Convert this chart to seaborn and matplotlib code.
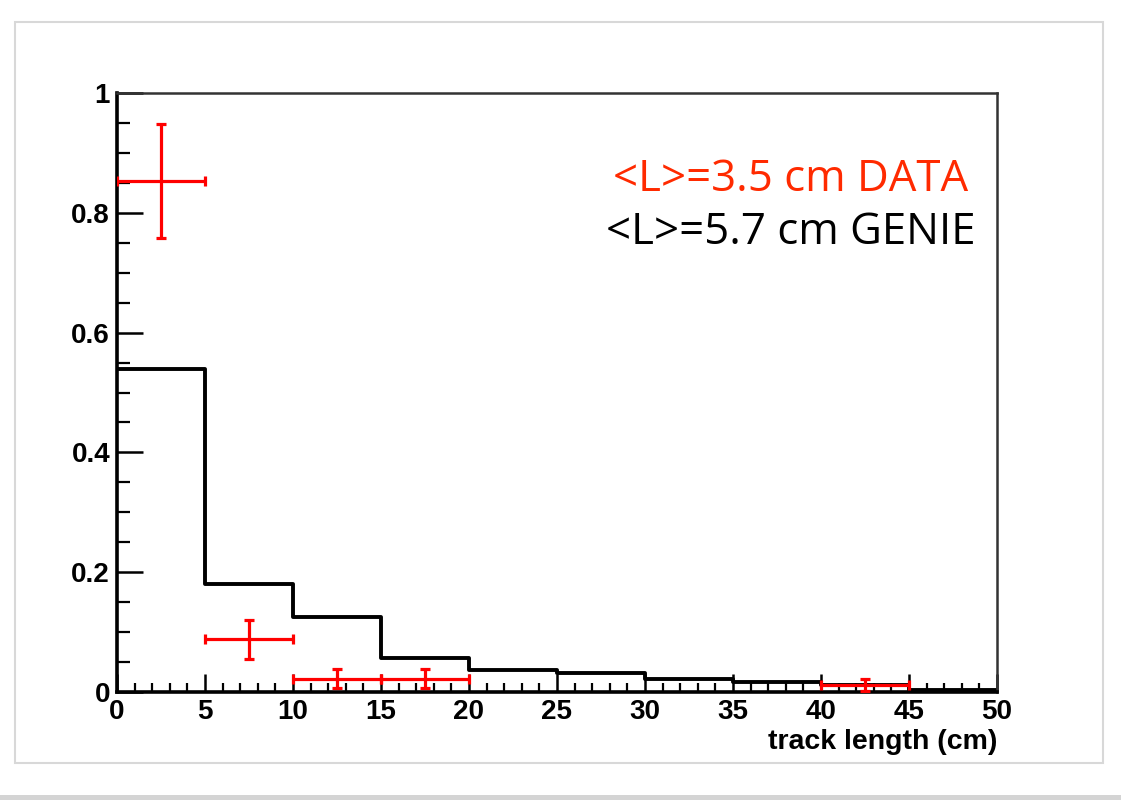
import numpy as np
import pandas as pd
import matplotlib
matplotlib.use("Agg")
import matplotlib.pyplot as plt
import seaborn as sns
from matplotlib.patches import Rectangle
from matplotlib.ticker import MultipleLocator

# ---- data ----
bin_edges = [0, 5, 10, 15, 20, 25, 30, 35, 40, 45, 50]
genie_values = [0.539, 0.180, 0.125, 0.056, 0.037, 0.032, 0.022, 0.016, 0.012, 0.004]

data_x = [2.5, 7.5, 12.5, 17.5, 42.5]
data_xerr = [2.5, 2.5, 2.5, 2.5, 2.5]
data_y = [0.853, 0.088, 0.022, 0.022, 0.011]
data_yerr = [0.095, 0.033, 0.016, 0.016, 0.010]

label_data = "<L>=3.5 cm DATA"
label_genie = "<L>=5.7 cm GENIE"
xlabel = "track length (cm)"

# ---- style ----
sns.set_theme(style="white")
plt.rcParams["font.family"] = ["Liberation Sans", "DejaVu Sans"]
plt.rcParams["text.color"] = "black"
plt.rcParams["axes.labelcolor"] = "black"
plt.rcParams["xtick.color"] = "black"
plt.rcParams["ytick.color"] = "black"

fig = plt.figure(figsize=(11.21, 8.0), dpi=100)
ax = fig.add_axes([117 / 1121, 1 - 692 / 800, (997 - 117) / 1121, (692 - 93) / 800])

centers = [(a + b) / 2 for a, b in zip(bin_edges[:-1], bin_edges[1:])]
df = pd.DataFrame({"x": centers, "w": genie_values})
sns.histplot(data=df, x="x", weights="w", bins=bin_edges, element="step",
             fill=False, color="black", linewidth=2.8, ax=ax)

ax.errorbar(data_x, data_y, xerr=data_xerr, yerr=data_yerr, fmt="none",
            ecolor="#ff0000", elinewidth=2.3, capsize=3.5, capthick=2.3, zorder=5)

ax.set_xlim(0, 50)
ax.set_ylim(0, 1)
ax.xaxis.set_major_locator(MultipleLocator(5))
ax.xaxis.set_minor_locator(MultipleLocator(1))
ax.yaxis.set_major_locator(MultipleLocator(0.2))
ax.yaxis.set_minor_locator(MultipleLocator(0.05))
ax.set_yticks([0, 0.2, 0.4, 0.6, 0.8, 1.0])
ax.set_yticklabels(["0", "0.2", "0.4", "0.6", "0.8", "1"])

ax.tick_params(axis="both", which="both", direction="in", color="black",
               labelcolor="black", bottom=True, left=True, top=False, right=False)
ax.tick_params(axis="x", which="major", length=13, width=1.8, labelsize=20, pad=5)
ax.tick_params(axis="x", which="minor", length=6.5, width=1.6)
ax.tick_params(axis="y", which="major", length=19, width=1.8, labelsize=20, pad=5)
ax.tick_params(axis="y", which="minor", length=9.5, width=1.6)
for lab in ax.get_xticklabels() + ax.get_yticklabels():
    lab.set_fontweight("bold")

for side in ["left", "bottom"]:
    ax.spines[side].set_linewidth(2.6)
    ax.spines[side].set_color("black")
for side in ["top", "right"]:
    ax.spines[side].set_linewidth(1.8)
    ax.spines[side].set_color("#333333")

ax.set_ylabel("")
ax.set_xlabel(xlabel, loc="right", fontsize=20.5, fontweight="bold", labelpad=3,
              color="black")

fig.text(968 / 1121, 1 - 191 / 800, label_data, color="#ff2a00", fontsize=31.5,
         family=["Open Sans", "DejaVu Sans"], ha="right", va="baseline")
fig.text(975 / 1121, 1 - 244 / 800, label_genie, color="black", fontsize=31.5,
         family=["Open Sans", "DejaVu Sans"], ha="right", va="baseline")

# outer light frame and bottom bar
fig.patches.append(Rectangle((15 / 1121, 1 - 763 / 800), (1103 - 15) / 1121, (763 - 22) / 800,
                             transform=fig.transFigure, fill=False, edgecolor="#d8d8d8",
                             linewidth=1.5, zorder=0))
fig.patches.append(Rectangle((0, 0), 1, 5 / 800, transform=fig.transFigure,
                             facecolor="#d4d4d4", edgecolor="none", zorder=0))

fig.savefig("out.png", dpi=100)
